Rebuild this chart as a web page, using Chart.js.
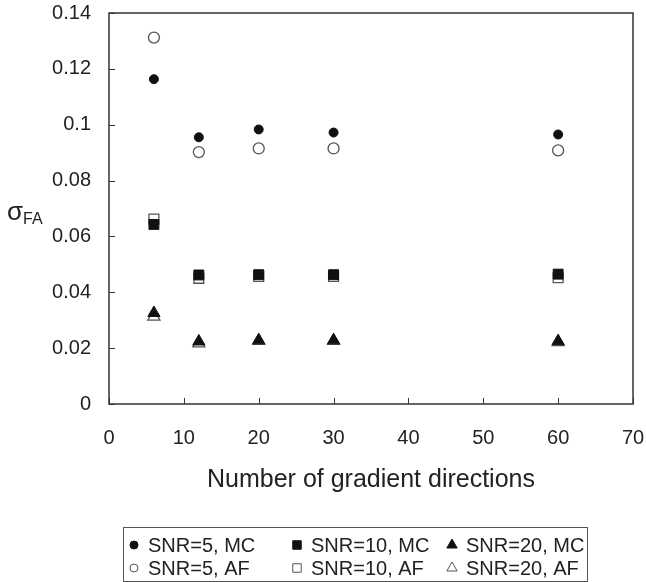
<!DOCTYPE html>
<html>
<head>
<meta charset="utf-8">
<script src="https://cdn.jsdelivr.net/npm/chart.js@4/dist/chart.umd.min.js"></script>
<style>
  html, body { margin: 0; padding: 0; background: #fff; }
  #wrap { width: 646px; height: 582px; }
</style>
</head>
<body>
<div id="wrap"><canvas id="sigma_chart" width="646" height="582"></canvas></div>
<script>
// gradient direction counts
var directions = [6, 12, 20, 30, 60];

// sigma FA, Monte Carlo (MC) and analytic formula (AF)
var snr5MC  = [0.1163, 0.0955, 0.0983, 0.0972, 0.0965];
var snr5AF  = [0.1312, 0.0902, 0.0915, 0.0915, 0.0908];
var snr10MC = [0.0643, 0.0462, 0.0463, 0.0463, 0.0465];
var snr10AF = [0.0662, 0.0450, 0.0457, 0.0457, 0.0452];
var snr20MC = [0.0326, 0.0224, 0.0228, 0.0228, 0.0225];
var snr20AF = [0.0313, 0.0217, 0.0226, 0.0226, 0.0222];

var yTickLabels = ['0', '0.02', '0.04', '0.06', '0.08', '0.1', '0.12', '0.14'];
var xTickLabels = ['0', '10', '20', '30', '40', '50', '60', '70'];

var FONT = "'Liberation Sans', Arial, sans-serif";
var INK = '#222';

function pts(ys) {
    return directions.map(function (x, i) { return { x: x, y: ys[i] }; });
}

function series(label, ys, style, filled, r, order) {
    return {
        label: label,
        data: pts(ys),
        pointStyle: style,
        pointRadius: r,
        pointHoverRadius: r,
        pointBackgroundColor: filled ? '#111' : '#fff',
        pointBorderColor: filled ? '#111' : '#555',
        pointBorderWidth: filled ? 1 : 1.3,
        showLine: false,
        order: order
    };
}

var datasets = [
    series('SNR=5, MC', snr5MC, 'circle', true, 4.5, 0),
    series('SNR=10, MC', snr10MC, 'rect', true, 7, 0),
    series('SNR=20, MC', snr20MC, 'triangle', true, 7, 0),
    series('SNR=5, AF', snr5AF, 'circle', false, 5.5, 1),
    series('SNR=10, AF', snr10AF, 'rect', false, 7, 1),
    series('SNR=20, AF', snr20AF, 'triangle', false, 7, 1)
];

// no extra room for edge labels, the plot box is fixed
function noEdgePad(s) {
    s.paddingLeft = 0;
    s.paddingRight = 0;
    s.paddingTop = 0;
    s.paddingBottom = 0;
}

// frame, inside ticks, y label and boxed legend
var decor = {
    id: 'decor',
    afterDraw: function (chart) {
        var ctx = chart.ctx;
        var a = chart.chartArea;
        var xs = chart.scales.x, ys = chart.scales.y;
        ctx.save();
        ctx.strokeStyle = '#333';
        ctx.lineWidth = 1.5;
        ctx.strokeRect(a.left, a.top, a.right - a.left, a.bottom - a.top);

        ctx.lineWidth = 1;
        ctx.beginPath();
        xs.ticks.forEach(function (t) {
            var px = Math.round(xs.getPixelForValue(t.value)) + 0.5;
            ctx.moveTo(px, a.bottom);
            ctx.lineTo(px, a.bottom - 6);
        });
        ys.ticks.forEach(function (t) {
            var py = Math.round(ys.getPixelForValue(t.value)) + 0.5;
            ctx.moveTo(a.left, py);
            ctx.lineTo(a.left + 6, py);
        });
        ctx.stroke();

        // sigma_FA
        ctx.fillStyle = INK;
        ctx.textBaseline = 'alphabetic';
        ctx.textAlign = 'left';
        ctx.font = '26px ' + FONT;
        ctx.fillText('\u03c3', 7, 220);
        var sw = ctx.measureText('\u03c3').width;
        ctx.font = '16px ' + FONT;
        ctx.fillText('FA', 7 + sw, 224);

        // legend
        var lx = 123, ly = 527, lw = 464, lh = 54;
        ctx.strokeStyle = '#555';
        ctx.lineWidth = 1;
        ctx.strokeRect(lx + 0.5, ly + 0.5, lw, lh);
        var colX = [134, 297, 452];
        var rowY = [545, 568];
        ctx.font = '20px ' + FONT;
        ctx.textBaseline = 'middle';
        chart.data.datasets.forEach(function (ds, i) {
            var cx = colX[i % 3], cy = rowY[Math.floor(i / 3)];
            var rad = ds.pointStyle === 'circle' ? 4 : 6;
            ctx.fillStyle = ds.pointBackgroundColor;
            ctx.strokeStyle = ds.pointBorderColor;
            ctx.lineWidth = 1;
            Chart.helpers.drawPoint(ctx, { pointStyle: ds.pointStyle, radius: rad, borderWidth: 1, rotation: 0 }, cx, cy);
            ctx.fillStyle = INK;
            ctx.fillText(ds.label, cx + 14, cy + 1);
        });
        ctx.restore();
    }
};

new Chart(document.getElementById('sigma_chart').getContext('2d'), {
    type: 'scatter',
    data: { datasets: datasets },
    plugins: [decor],
    options: {
        responsive: false,
        animation: false,
        layout: { padding: { left: 0, right: 13, top: 13, bottom: 87 } },
        plugins: {
            legend: { display: false },
            tooltip: { enabled: false }
        },
        scales: {
            x: {
                type: 'linear',
                min: 0,
                max: 70,
                grid: { display: false, drawTicks: false },
                border: { display: false },
                ticks: {
                    stepSize: 10,
                    padding: 22,
                    color: INK,
                    font: { family: FONT, size: 20 },
                    callback: function (v, i) { return xTickLabels[i]; }
                },
                title: {
                    display: true,
                    text: 'Number of gradient directions',
                    color: INK,
                    font: { family: FONT, size: 25 },
                    padding: { top: 0, bottom: 0 }
                },
                afterFit: function (s) { s.height = 91; noEdgePad(s); }
            },
            y: {
                min: 0,
                max: 0.14,
                grid: { display: false, drawTicks: false },
                border: { display: false },
                ticks: {
                    stepSize: 0.02,
                    padding: 18,
                    color: INK,
                    font: { family: FONT, size: 20 },
                    callback: function (v, i) { return yTickLabels[i]; }
                },
                afterFit: function (s) { s.width = 109; noEdgePad(s); }
            }
        }
    }
});
</script>
</body>
</html>
